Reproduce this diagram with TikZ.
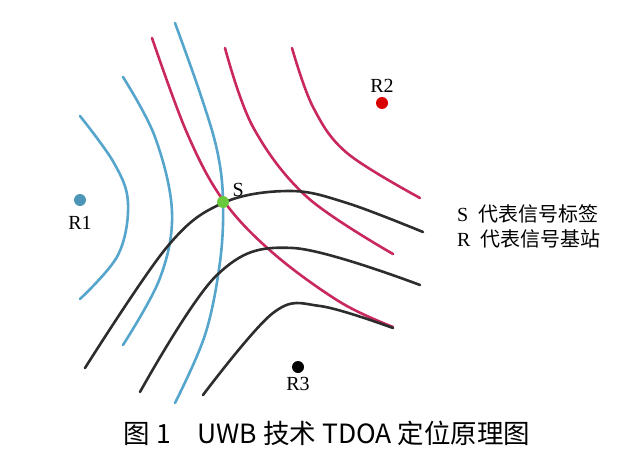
\documentclass[tikz,border=0pt]{standalone}
\usepackage{fontspec}
\setmainfont{Liberation Serif}
\newfontfamily\cjk{Noto Sans CJK SC}
\usetikzlibrary{positioning}

\definecolor{hypblue}{RGB}{85,165,205}
\definecolor{hypred}{RGB}{200,40,95}
\definecolor{hypblack}{RGB}{45,45,45}
\definecolor{taggreen}{RGB}{105,200,60}

\begin{document}
\begin{tikzpicture}[x=1pt,y=-1pt,line cap=round]
  \tikzstyle{curve}=[line width=2.6pt]
  \tikzstyle{station}=[circle,inner sep=0pt,minimum size=12pt]
  \tikzstyle{lbl}=[font=\fontsize{20}{22}\selectfont,inner sep=2pt]
  \tikzstyle{legend}=[font=\fontsize{20}{22}\selectfont,inner sep=2pt]

  \useasboundingbox (0,0) rectangle (640,463);

  % hyperbolas around R1
  \draw[curve,hypblue] plot[smooth,tension=0.6] coordinates {(80,116) (114,163) (128,203) (118,255) (80,299)};
  \draw[curve,hypblue] plot[smooth,tension=0.6] coordinates {(123,77) (155,137) (172,212) (160,278) (123,345)};
  \draw[curve,hypblue] plot[smooth,tension=0.6] coordinates {(175,23) (200,93) (217,150) (223,200) (220,262) (205,335) (175,403)};

  % hyperbolas around R2
  \draw[curve,hypred] plot[smooth,tension=0.6] coordinates {(152,38) (187,133) (223,200) (273,253) (340,302) (393,327)};
  \draw[curve,hypred] plot[smooth,tension=0.6] coordinates {(225,48) (253,127) (307,197) (393,254)};
  \draw[curve,hypred] plot[smooth,tension=0.6] coordinates {(292,48) (313,107) (347,153) (420,198)};

  % hyperbolas around R3
  \draw[curve,hypblack] plot[smooth,tension=0.6] coordinates {(85,368) (167,247) (223,203) (290,191) (347,203) (423,232)};
  \draw[curve,hypblack] plot[smooth,tension=0.6] coordinates {(140,392) (217,275) (293,248) (420,285)};
  \draw[curve,hypblack] plot[smooth,tension=0.6] coordinates {(203,395) (273,313) (320,306) (393,328)};

  % stations and tag
  \node[station,fill=hypblue!90!black] (r1) at (80,200) {};
  \node[station,fill=red!85!black]     (r2) at (382,103) {};
  \node[station,fill=black]            (r3) at (298,367) {};
  \node[station,fill=taggreen]         (s)  at (223,202) {};

  \node[lbl,below=8pt of r1]        (r1l) {R1};
  \node[lbl,above=2pt of r2]        (r2l) {R2};
  \node[lbl,below=2pt of r3]        (r3l) {R3};
  \node[lbl,above right=-1pt and 3pt of s] (sl) {S};

  % legend
  \node[legend,anchor=west] (legs) at (455,214) {S\hspace{0.5em}{\cjk 代表信号标签}};
  \node[legend,below=2pt of legs.south west,anchor=north west] (legr) {R\hspace{0.5em}{\cjk 代表信号基站}};

  % caption
  \node[font=\cjk\fontsize{26.5}{28}\selectfont] (cap) at (327,433) {图 1\quad UWB 技术 TDOA 定位原理图};
\end{tikzpicture}
\end{document}
